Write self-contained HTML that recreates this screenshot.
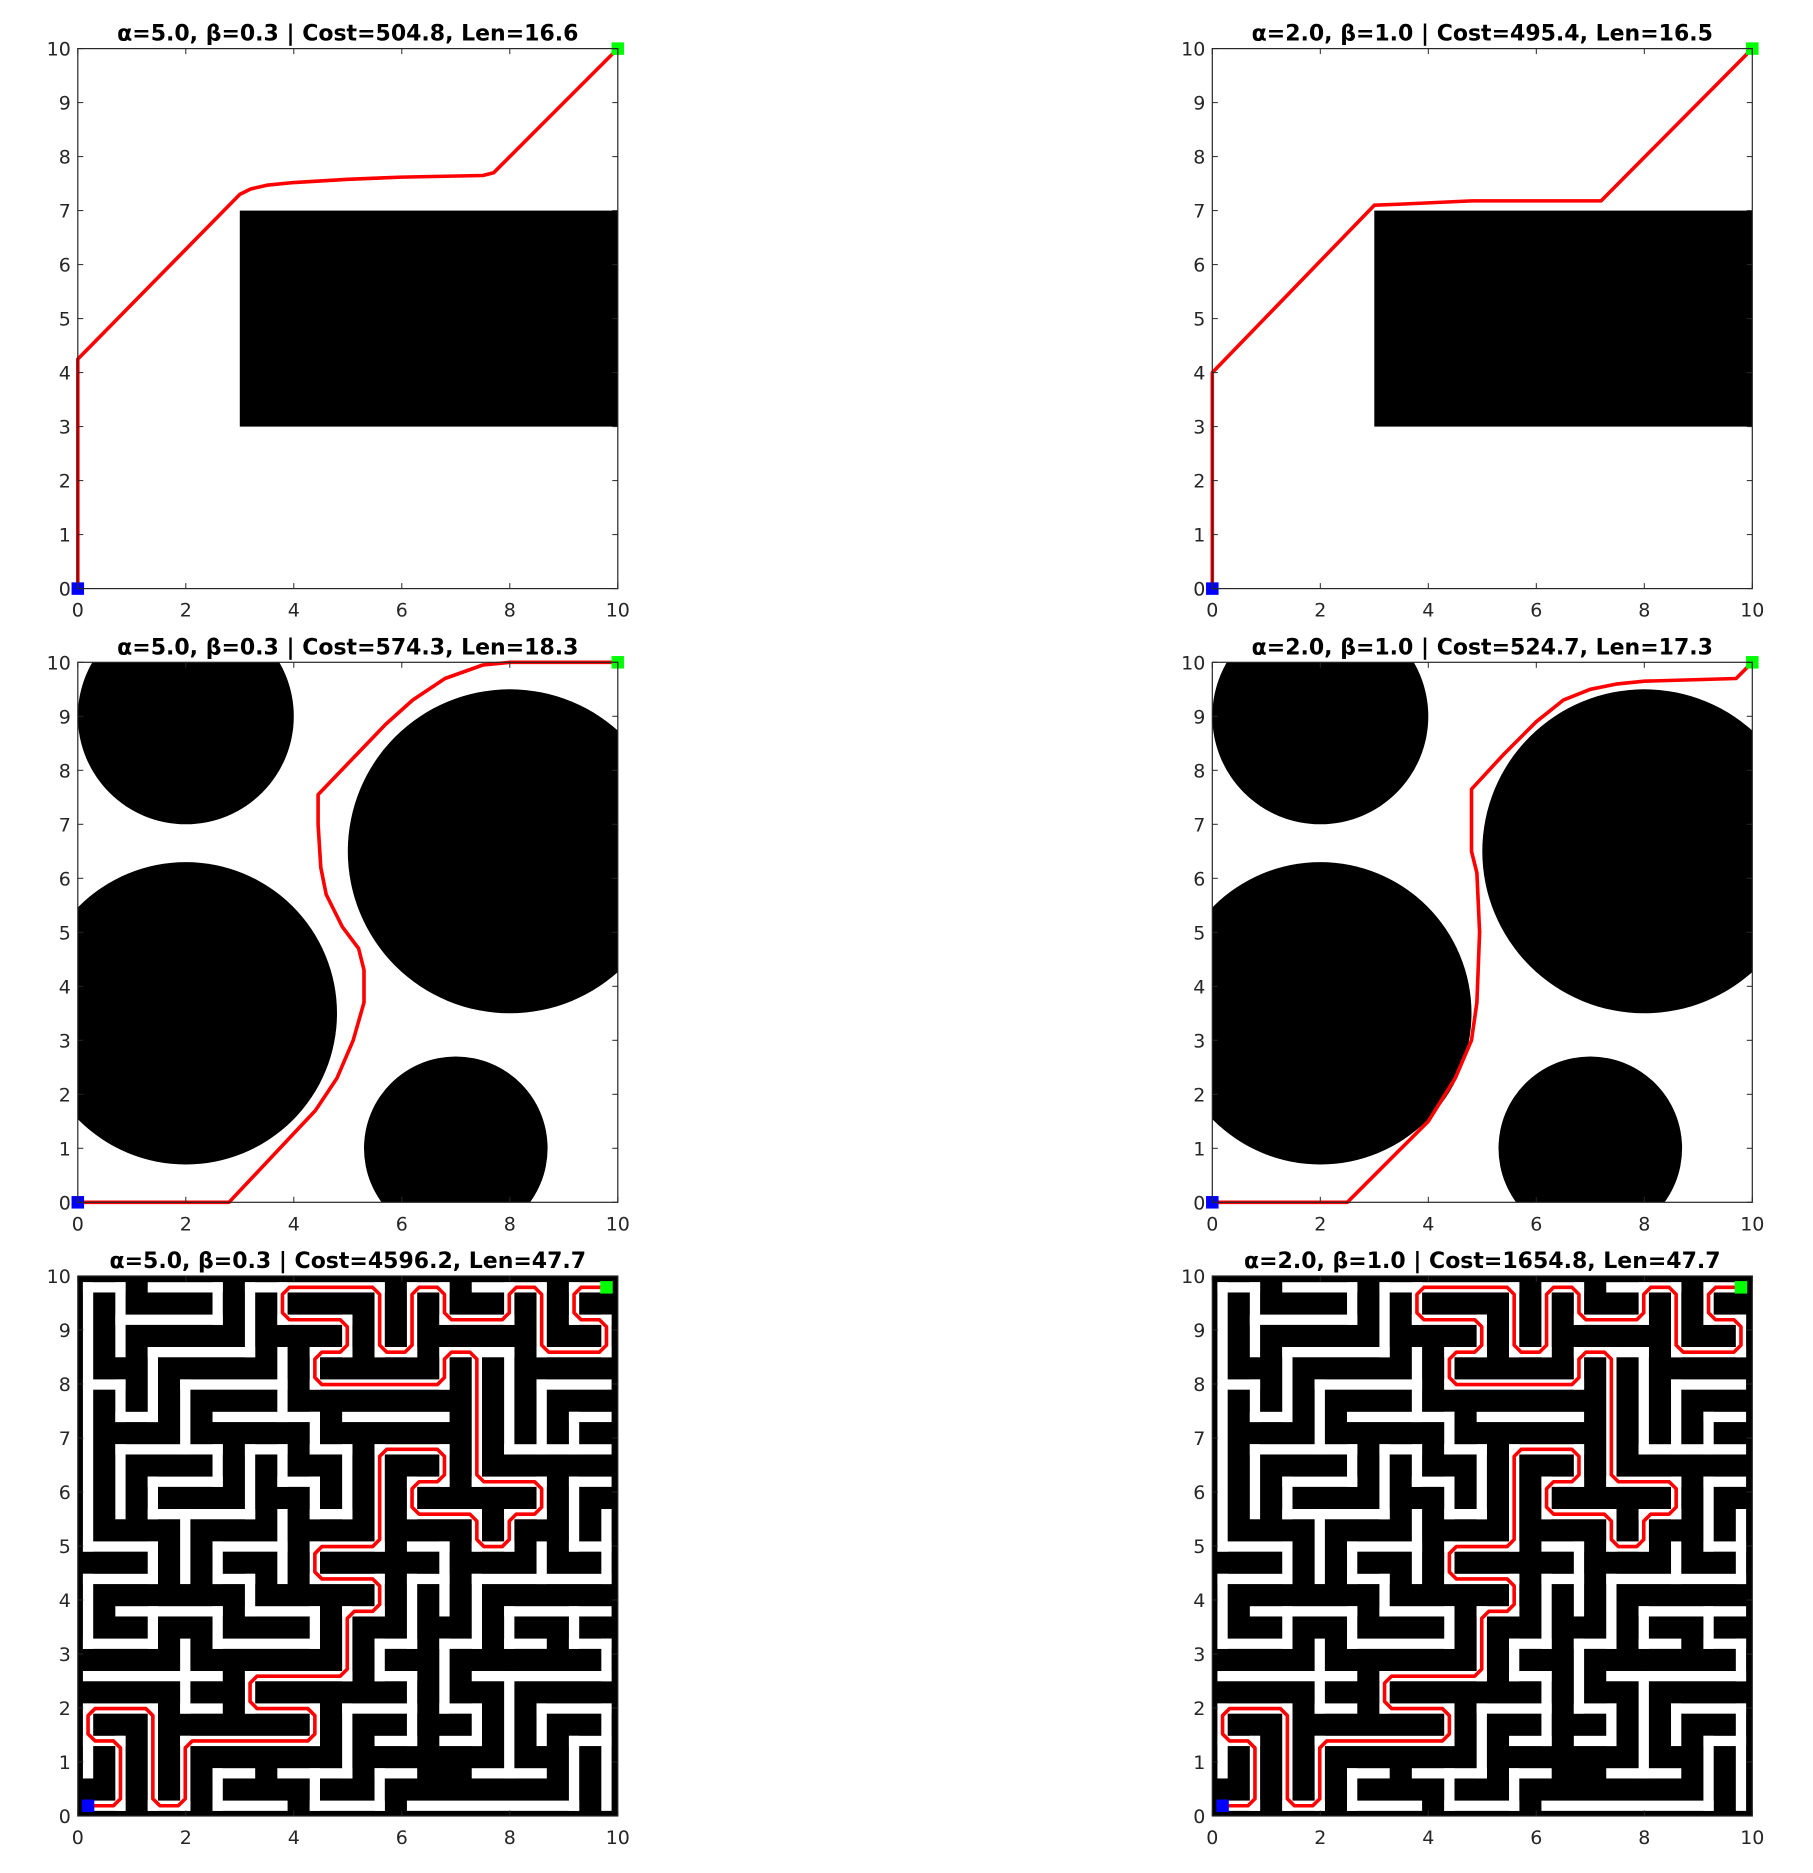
<!DOCTYPE html>
<html><head><meta charset="utf-8">
<style>
html,body{margin:0;padding:0;background:#fff;}
svg{display:block;}
text{font-family:"DejaVu Sans","Liberation Sans",sans-serif;}
</style></head>
<body>
<svg id="fig" xmlns="http://www.w3.org/2000/svg" width="1813" height="1873" viewBox="0 0 1813 1873">
<rect x="0" y="0" width="1813" height="1873" fill="#fff"/>
</svg>
<script>
// ---------- data ----------
const titles = [
 "α=5.0, β=0.3 | Cost=504.8, Len=16.6",
 "α=2.0, β=1.0 | Cost=495.4, Len=16.5",
 "α=5.0, β=0.3 | Cost=574.3, Len=18.3",
 "α=2.0, β=1.0 | Cost=524.7, Len=17.3",
 "α=5.0, β=0.3 | Cost=4596.2, Len=47.7",
 "α=2.0, β=1.0 | Cost=1654.8, Len=47.7"
];
const xTicks = [0,2,4,6,8,10];
const yTicks = [0,1,2,3,4,5,6,7,8,9,10];
// rectangle obstacle [x1,y1,x2,y2]
const rectObstacle = [3,3,10,7];
// circle obstacles
const circleX = [2,2,8,7];
const circleY = [9,3.5,6.5,1];
const circleR = [2,2.8,3,1.7];
// paths, row 1
const path1aX = [0,0,3,3.2,3.5,4,5,6,7.5,7.7,10];
const path1aY = [0,4.25,7.3,7.4,7.47,7.52,7.58,7.62,7.65,7.7,10];
const path1bX = [0,0,3,3.5,4.8,7.2,10];
const path1bY = [0,4,7.1,7.12,7.18,7.18,10];
// paths, row 2
const path2aX = [0,2.8,4.4,4.8,5.1,5.3,5.3,5.2,4.9,4.6,4.5,4.45,4.45,5.7,6.2,6.8,7.5,8,10];
const path2aY = [0,0,1.7,2.3,3,3.7,4.3,4.7,5.1,5.7,6.2,7,7.55,8.85,9.3,9.7,9.95,10,10];
const path2bX = [0,2.5,4,4.5,4.8,4.9,4.95,4.9,4.8,4.8,5.4,6,6.5,7,7.5,8,9.7,10];
const path2bY = [0,0,1.5,2.3,3,3.7,5,6.1,6.5,7.65,8.3,8.9,9.3,9.5,9.6,9.65,9.7,10];
// maze corridors: horizontal [row, fromCol, toCol]
const mazeH = [
 [16,0,1],[16,2,4],[16,5,9],[16,10,11],[16,12,14],[16,15,16],
 [15,1,4],[15,6,8],[15,11,13],[15,15,16],
 [14,2,5],[14,7,8],[14,9,10],[14,11,13],[14,14,16],
 [13,0,1],[13,3,6],[13,7,11],[13,14,16],
 [12,1,2],[12,4,7],[12,8,11],[12,15,16],
 [11,1,4],[11,5,6],[11,7,8],[11,9,11],[11,13,16],
 [10,2,4],[10,6,7],[10,10,11],[10,12,14],[10,15,16],
 [9,2,5],[9,7,8],[9,10,12],[9,13,14],
 [8,0,2],[8,4,6],[8,7,9],[8,10,11],[8,12,13],[8,15,16],
 [7,0,2],[7,4,5],[7,7,9],[7,10,11],[7,12,16],
 [6,1,4],[6,5,7],[6,8,9],[6,13,16],
 [5,0,2],[5,4,7],[5,9,10],[5,11,12],[5,13,14],[5,15,16],
 [4,0,4],[4,5,8],[4,9,10],[4,12,16],
 [3,0,2],[3,3,4],[3,5,7],[3,8,10],[3,11,12],[3,14,16],
 [2,0,1],[2,3,7],[2,9,10],[2,11,12],[2,15,16],
 [1,4,5],[1,6,8],[1,9,10],[1,12,14],
 [0,0,1],[0,2,3],[0,4,6],[0,7,9],[0,10,15]
];
// maze corridors: vertical [col, fromRow, toRow]
const mazeV = [
 [0,8,16],[0,5,7],[0,1,3],
 [1,14,16],[1,12,13],[1,9,11],[1,0,2],
 [2,12,14],[2,9,10],[2,7,8],[2,5,6],[2,0,3],
 [3,11,13],[3,7,9],[3,3,5],[3,0,2],
 [4,15,16],[4,10,11],[4,7,8],[4,5,6],[4,0,1],
 [5,14,16],[5,9,11],[5,6,7],[5,3,4],
 [6,15,16],[6,12,14],[6,10,11],[6,7,9],
 [7,13,14],[7,11,12],[7,9,10],[7,7,8],[7,5,6],[7,2,3],[7,0,1],
 [8,14,15],[8,9,11],[8,4,6],[8,1,3],
 [9,14,16],[9,8,11],[9,6,7],[9,4,5],[9,0,1],
 [10,14,16],[10,9,10],[10,5,7],[10,2,4],
 [11,15,16],[11,13,14],[11,10,11],[11,6,8],[11,3,5],
 [12,8,9],[12,10,14],[12,5,7],[12,2,3],
 [13,15,16],[13,11,14],[13,8,9],[13,5,6],[13,1,4],
 [14,14,16],[14,11,13],[14,9,10],[14,7,8],[14,2,3],
 [15,15,16],[15,11,12],[15,8,10],[15,5,6],[15,0,2],
 [16,14,15],[16,7,9],[16,4,5],[16,0,3]
];
// maze solution path (grid nodes)
const mazePathCol = [0,1,1,0,0,2,2,3,3,7,7,5,5,8,8,9,9,7,7,9,9,11,11,10,10,12,12,13,13,14,14,12,12,11,11,7,7,8,8,6,6,9,9,10,10,11,11,13,13,14,14,16,16,15,15,16];
const mazePathRow = [0,0,2,2,3,3,0,0,2,2,3,3,4,4,6,6,7,7,8,8,11,11,10,10,9,9,8,8,9,9,10,10,14,14,13,13,14,14,15,15,16,16,14,14,16,16,15,15,16,16,14,14,15,15,16,16];

// ---------- layout ----------
const NS = "http://www.w3.org/2000/svg";
const svg = document.getElementById('fig');
const AX = 540;
const colX = [77.8, 1212.3];
const rowY = [48.6, 662.3, 1276];
function mk(tag, attrs, parent){
  const e = document.createElementNS(NS, tag);
  for (const k in attrs) e.setAttribute(k, attrs[k]);
  (parent||svg).appendChild(e);
  return e;
}
function scales(c, r){
  const x0 = colX[c], y0 = rowY[r];
  return {x0, y0, sx: v => x0 + v*AX/10, sy: v => y0 + AX - v*AX/10};
}
function polyStr(S, xs, ys){
  return xs.map((x,i)=> S.sx(x).toFixed(2)+','+S.sy(ys[i]).toFixed(2)).join(' ');
}
function chamfer(xs, ys, c){
  const ox=[xs[0]], oy=[ys[0]];
  for (let i=1;i<xs.length-1;i++){
    const dx1=xs[i]-xs[i-1], dy1=ys[i]-ys[i-1];
    const dx2=xs[i+1]-xs[i], dy2=ys[i+1]-ys[i];
    const l1=Math.hypot(dx1,dy1), l2=Math.hypot(dx2,dy2);
    const c1=Math.min(c,l1/2), c2=Math.min(c,l2/2);
    ox.push(xs[i]-dx1/l1*c1); oy.push(ys[i]-dy1/l1*c1);
    ox.push(xs[i]+dx2/l2*c2); oy.push(ys[i]+dy2/l2*c2);
  }
  ox.push(xs[xs.length-1]); oy.push(ys[ys.length-1]);
  return [ox, oy];
}

function drawPanel(idx, c, r, drawContent){
  const S = scales(c, r);
  const g = mk('g', {});
  
  
  const cid = 'clip'+idx;
  const cp = mk('clipPath', {id: cid}, g);
  mk('rect', {x:S.x0, y:S.y0, width:AX, height:AX}, cp);
  const plot = mk('g', {'clip-path':'url(#'+cid+')'}, g);
  
  
  mk('rect', {x:S.x0, y:S.y0, width:AX, height:AX, fill:'#fff'}, plot);
  drawContent(S, plot, g);
  const frame = mk('rect', {x:S.x0, y:S.y0, width:AX, height:AX, fill:'none', stroke:'#262626', 'stroke-width':1.2}, g);
  
  
  xTicks.forEach(t=>{
    const x = S.sx(t);
    mk('line', {x1:x, y1:S.y0+AX, x2:x, y2:S.y0+AX-5.5, stroke:'#262626','stroke-width':1}, g);
    mk('line', {x1:x, y1:S.y0, x2:x, y2:S.y0+5.5, stroke:'#262626','stroke-width':1}, g);
    const tl = mk('text', {x:x, y:S.y0+AX+28, 'font-size':19, fill:'#262626', 'text-anchor':'middle'}, g);
    tl.textContent = t;
    
    
  });
  yTicks.forEach(t=>{
    const y = S.sy(t);
    mk('line', {x1:S.x0, y1:y, x2:S.x0+5.5, y2:y, stroke:'#262626','stroke-width':1}, g);
    mk('line', {x1:S.x0+AX, y1:y, x2:S.x0+AX-5.5, y2:y, stroke:'#262626','stroke-width':1}, g);
    const tl = mk('text', {x:S.x0-7, y:y+7, 'font-size':19, fill:'#262626', 'text-anchor':'end'}, g);
    tl.textContent = t;
    
    
  });
  const ti = mk('text', {x:S.x0+AX/2, y:S.y0-8, 'font-size':22, 'font-weight':'bold', fill:'#000', 'text-anchor':'middle'}, g);
  ti.textContent = titles[idx];
  
  
  return S;
}
function drawPath(S, parent, xs, ys){
  const p = mk('polyline', {points: polyStr(S, xs, ys), fill:'none', stroke:'#ff0000', 'stroke-width':3.6, 'stroke-linejoin':'round'}, parent);
  
  
}
function drawMarkers(S, parent, sx, sy, gx, gy){
  const m = 12.5;
  const s = mk('rect', {x:S.sx(sx)-m/2, y:S.sy(sy)-m/2, width:m, height:m, fill:'#0000ff'}, parent);
  
  
  const g = mk('rect', {x:S.sx(gx)-m/2, y:S.sy(gy)-m/2, width:m, height:m, fill:'#00ff00'}, parent);
  
  
}

[[path1aX,path1aY],[path1bX,path1bY]].forEach((p,c)=>{
  drawPanel(c, c, 0, (S, plot, g)=>{
    const o = mk('rect', {x:S.sx(rectObstacle[0]), y:S.sy(rectObstacle[3]), width:S.sx(rectObstacle[2])-S.sx(rectObstacle[0]), height:S.sy(rectObstacle[1])-S.sy(rectObstacle[3]), fill:'#000'}, plot);
    
    
    drawPath(S, g, p[0], p[1]);
    drawMarkers(S, g, 0, 0, 10, 10);
  });
});
[[path2aX,path2aY],[path2bX,path2bY]].forEach((p,c)=>{
  drawPanel(2+c, c, 1, (S, plot, g)=>{
    circleX.forEach((cx,i)=>{
      const ci = mk('circle', {cx:S.sx(cx), cy:S.sy(circleY[i]), r:circleR[i]*AX/10, fill:'#000'}, plot);
      
      
    });
    drawPath(S, g, p[0], p[1]);
    drawMarkers(S, g, 0, 0, 10, 10);
  });
});
const node = k => 0.19 + 0.6*k;
const hw = 0.095;
[0,1].forEach(c=>{
  drawPanel(4+c, c, 2, (S, plot, g)=>{
    const bg = mk('rect', {x:S.x0, y:S.y0, width:AX, height:AX, fill:'#000'}, plot);
    
    
    mazeH.forEach(h=>{
      const x1=node(h[1])-hw, x2=node(h[2])+hw, y=node(h[0]);
      const e = mk('rect', {x:S.sx(x1), y:S.sy(y+hw), width:S.sx(x2)-S.sx(x1), height:S.sy(y-hw)-S.sy(y+hw), fill:'#fff'}, plot);
      
      
    });
    mazeV.forEach(v=>{
      const y1=node(v[1])-hw, y2=node(v[2])+hw, x=node(v[0]);
      const e = mk('rect', {x:S.sx(x-hw), y:S.sy(y2), width:S.sx(x+hw)-S.sx(x-hw), height:S.sy(y1)-S.sy(y2), fill:'#fff'}, plot);
      
      
    });
    const px = mazePathCol.map(node), py = mazePathRow.map(node);
    const ch = chamfer(px, py, 0.13);
    drawPath(S, plot, ch[0], ch[1]);
    drawMarkers(S, plot, node(0), node(0), node(16), node(16));
  });
});
</script>
</body></html>
